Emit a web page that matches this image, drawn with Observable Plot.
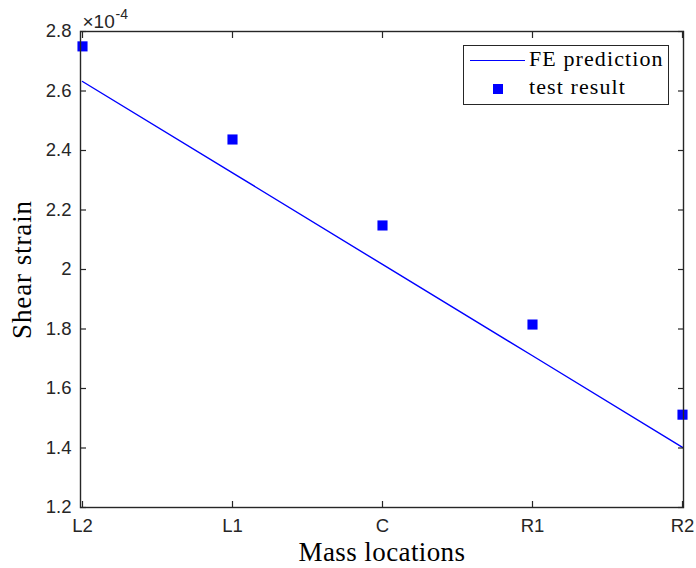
<!DOCTYPE html>
<html>
<head>
<meta charset="utf-8">
<script src="https://cdn.jsdelivr.net/npm/d3@7"></script>
<script src="https://cdn.jsdelivr.net/npm/@observablehq/plot@0.6"></script>
<style>
  html, body { margin: 0; padding: 0; background: #fff; }
  #wrap { position: relative; width: 696px; height: 568px; overflow: hidden; }
  #legend { position: absolute; left: 463px; top: 45px; width: 206px; height: 60px; border: 1.2px solid #262626; background: #fff; box-sizing: border-box;
    font: 22px "Liberation Serif", "Times New Roman", serif; letter-spacing: 1.1px; color: #000; }
  .sw-line { position: absolute; left: 6px; width: 55px; border-top: 1.5px solid #0000ff; }
  .sw-sq { position: absolute; left: 29px; width: 10px; height: 10px; background: #0000ff; }
  .lbl { position: absolute; left: 65px; white-space: nowrap; }
</style>
</head>
<body>
<div id="wrap">
  <div id="chart"></div>
  <div id="legend">
    <div class="sw-line" style="top:14px"></div>
    <div class="lbl" style="top:0px">FE prediction</div>
    <div class="sw-sq" style="top:38px"></div>
    <div class="lbl" style="top:28px">test result</div>
  </div>
</div>
<script>
// Data (values in units of 1e-4)
const locations = ["L2", "L1", "C", "R1", "R2"];
const fePrediction = [2.632, 2.325, 2.017, 1.710, 1.402];
const testResult = [2.750, 2.437, 2.148, 1.815, 1.512];
const yTicks = [1.2, 1.4, 1.6, 1.8, 2.0, 2.2, 2.4, 2.6, 2.8];
const expBase = "×10";
const expPower = "-4";

const feData = locations.map((loc, i) => ({loc, v: fePrediction[i]}));
const testData = locations.map((loc, i) => ({loc, v: testResult[i]}));

const axisColor = "#262626";
const sans = "'Liberation Sans', Arial, sans-serif";
const tickFont = {fontSize: 18.5, fontFamily: sans};
const serif = "'Liberation Serif', 'Times New Roman', serif";

const plot = Plot.plot({
  width: 696,
  height: 568,
  marginLeft: 80,
  marginRight: 13,
  marginTop: 31,
  marginBottom: 61,
  style: {background: "#fff", color: axisColor, overflow: "visible"},
  x: {type: "point", domain: locations, padding: 0},
  y: {domain: [1.2, 2.8]},
  marks: [
    Plot.line(feData, {x: "loc", y: "v", stroke: "#0000ff", strokeWidth: 1.4}),
    Plot.dot(testData, {x: "loc", y: "v", symbol: "square", r: 5.7, fill: "#0000ff", stroke: "none"}),
    Plot.frame({stroke: axisColor, strokeWidth: 1.4}),
    // inward ticks
    Plot.axisY({anchor: "left", ticks: yTicks, tickSize: -6, tickFormat: () => "", label: null, stroke: axisColor, strokeWidth: 1.2}),
    Plot.axisY({anchor: "right", ticks: yTicks, tickSize: -6, tickFormat: () => "", label: null, stroke: axisColor, strokeWidth: 1.2}),
    Plot.axisX({anchor: "bottom", tickSize: -6, tickFormat: () => "", label: null, stroke: axisColor, strokeWidth: 1.2}),
    Plot.axisX({anchor: "top", tickSize: -6, tickFormat: () => "", label: null, stroke: axisColor, strokeWidth: 1.2}),
    // labels
    Plot.axisY({anchor: "left", ticks: yTicks, tickSize: 0, tickPadding: 9, tickFormat: d => d3.format("")(+d.toFixed(1)), label: null, ...tickFont, fill: axisColor}),
    Plot.axisX({anchor: "bottom", tickSize: 0, tickPadding: 11, label: null, ...tickFont, fill: axisColor}),
    Plot.text([expBase], {frameAnchor: "top-left", textAnchor: "start", lineAnchor: "bottom", dx: 2, dy: -4, text: d => d, fontSize: 19, fontFamily: sans, fill: axisColor}),
    Plot.text([expPower], {frameAnchor: "top-left", textAnchor: "start", lineAnchor: "bottom", dx: 35, dy: -13, text: d => d, fontSize: 14, fontFamily: sans, fill: axisColor}),
    Plot.text(["Mass locations"], {frameAnchor: "bottom", dy: 53, text: d => d, fontSize: 27, fontFamily: serif, fill: "#000"}),
    Plot.text(["Shear strain"], {frameAnchor: "left", textAnchor: "middle", dx: -58, rotate: -90, text: d => d, fontSize: 27, fontFamily: serif, fill: "#000"})
  ]
});
plot.querySelectorAll("text").forEach(t => {
  if (t.textContent === "Mass locations") t.setAttribute("letter-spacing", "0.4");
  if (t.textContent === "Shear strain") t.setAttribute("letter-spacing", "0.9");
});
document.getElementById("chart").appendChild(plot);
</script>
</body>
</html>
